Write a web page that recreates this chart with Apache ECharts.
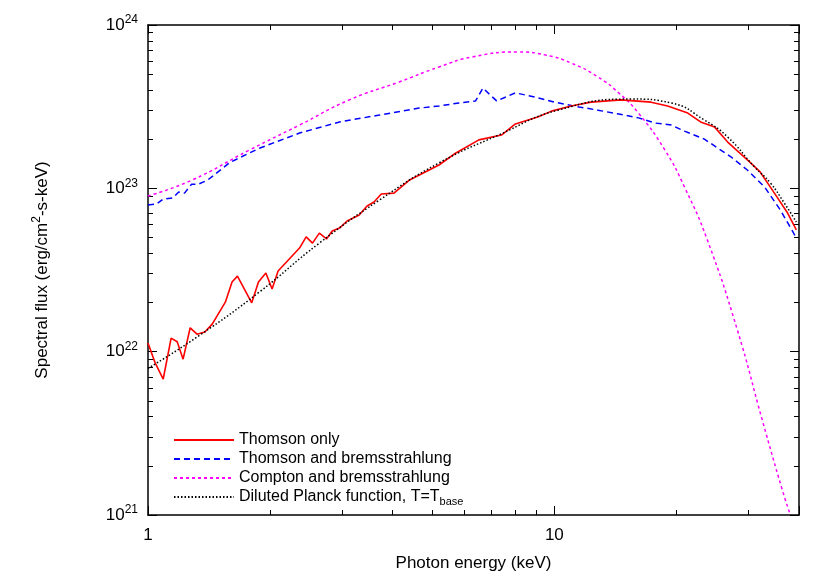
<!DOCTYPE html>
<html>
<head>
<meta charset="utf-8">
<script src="https://cdn.jsdelivr.net/npm/echarts@6/dist/echarts.min.js"></script>
<style>html,body{margin:0;padding:0;background:#fff}#chart{width:830px;height:580px}</style>
</head>
<body>
<div id="chart"></div>
<script>
// energies in keV, flux in units of 1e22 erg/cm2-s-keV
var thomsonE = [1.00,1.04,1.09,1.14,1.18,1.22,1.27,1.32,1.38,1.44,1.55,1.61,1.66,1.80,1.87,1.95,2.02,2.09,2.36,2.45,2.54,2.64,2.75,2.84,2.96,3.09,3.31,3.46,3.60,3.75,4.03,4.39,5.20,5.71,6.52,7.41,8.02,9.14,9.84,11.0,12.3,14.6,17.3,19.0,21.3,22.9,24.8,26.7,29.9,32.1,34.8,37.5,39.4];
var thomsonF = [1.13,0.86,0.68,1.21,1.15,0.90,1.40,1.28,1.32,1.48,2.01,2.67,2.90,1.99,2.67,3.03,2.42,3.12,4.31,5.04,4.62,5.32,4.90,5.48,5.71,6.31,6.87,7.80,8.24,9.23,9.35,11.2,13.9,16.4,19.8,21.2,24.8,27.4,29.7,31.9,33.7,34.8,33.7,31.9,28.9,25.5,23.7,19.2,14.9,12.6,9.35,7.06,5.56];
var bremE = [1.00,1.05,1.09,1.15,1.19,1.23,1.28,1.33,1.40,1.59,1.88,2.36,2.96,3.71,4.65,5.20,5.82,6.40,6.67,7.21,8.02,8.97,10.0,11.5,12.8,14.4,16.1,17.7,19.4,20.9,23.4,27.2,29.9,32.9,36.0,39.4];
var bremF = [7.91,8.02,8.60,8.73,9.49,9.35,10.6,10.6,11.2,14.4,17.6,21.8,25.5,28.1,31.0,31.9,33.3,34.3,41.1,34.3,38.4,36.2,33.7,31.5,30.1,28.5,27.0,25.1,24.4,22.4,20.0,15.6,12.9,10.2,7.36,4.97];
var comptonE = [1.00,1.28,1.78,2.36,3.13,4.15,5.20,6.27,8.17,9.51,11.0,12.8,14.4,16.1,18.7,20.9,23.8,28.2,32.5,36.4,38.1];
var comptonF = [8.98,11.2,17.2,24.4,34.8,44.8,55.3,63.7,68.4,65.5,58.5,48.1,38.4,28.9,17.2,10.2,4.82,1.36,0.38,0.142,0.100];
var planckE = [1.00,1.34,1.88,2.64,3.71,5.20,7.29,10.2,15.5,19.4,23.4,26.7,31.1,34.0,36.8,39.4];
var planckF = [0.79,1.26,2.32,4.62,8.47,14.3,21.2,30.1,35.2,33.3,26.2,20.6,13.5,10.8,8.13,6.22];
var yTicks = ['21','22','23','24'];

function pts(e, f) {
    var out = [];
    for (var i = 0; i < e.length; i++) out.push([e[i], f[i] * 1e22]);
    return out;
}

var chart = echarts.init(document.getElementById('chart'));
var font = 'Liberation Sans, Arial, sans-serif';
var supStyle = {fontSize: 12, verticalAlign: 'bottom', padding: [0, 0, 10, 0], fontFamily: font, color: '#000'};

var xBase = {
    type: 'log', logBase: 10, min: 1, max: 40,
    axisLine: {show: true, lineStyle: {color: '#000', width: 1.5}},
    axisTick: {inside: true, length: 9, lineStyle: {color: '#000'}},
    minorTick: {show: true, splitNumber: 9, length: 5, lineStyle: {color: '#000'}},
    splitLine: {show: false}
};
var yBase = {
    type: 'log', logBase: 10, min: 1e21, max: 1e24,
    axisLine: {show: true, lineStyle: {color: '#000', width: 1.5}},
    axisTick: {inside: true, length: 9, lineStyle: {color: '#000'}},
    minorTick: {show: true, splitNumber: 9, length: 5, lineStyle: {color: '#000'}},
    splitLine: {show: false}
};

var option = {
    animation: false,
    grid: {left: 148, top: 25, right: 31, bottom: 65},
    legend: {
        orient: 'vertical', left: 168, top: 427, itemGap: 3,
        itemWidth: 60, itemHeight: 14,
        itemStyle: {opacity: 0},
        textStyle: {fontSize: 16, fontFamily: font, color: '#000',
            rich: {sub: {fontSize: 11, verticalAlign: 'top', padding: [10, 0, 0, 0], fontFamily: font, color: '#000'}}},
        formatter: function (n) {
            return n === 'Diluted Planck function, T=Tbase' ? 'Diluted Planck function, T=T{sub|base}' : n;
        },
        data: ['Thomson only', 'Thomson and bremsstrahlung', 'Compton and bremsstrahlung', 'Diluted Planck function, T=Tbase']
    },
    xAxis: [
        Object.assign({}, xBase, {
            name: 'Photon energy (keV)', nameLocation: 'middle', nameGap: 40,
            nameTextStyle: {fontSize: 17, fontFamily: font, color: '#000'},
            axisLabel: {fontSize: 17, fontFamily: font, color: '#000', margin: 12,
                formatter: function (v) { var l = Math.log10(v); return Math.abs(l - Math.round(l)) < 1e-6 ? String(v) : ''; }}
        }),
        Object.assign({}, xBase, {position: 'top', axisLabel: {show: false}})
    ],
    yAxis: [
        Object.assign({}, yBase, {
            name: 'Spectral flux (erg/cm{sup|2}-s-keV)', nameLocation: 'middle', nameGap: 95, nameRotate: 90,
            nameTextStyle: {fontSize: 17, fontFamily: font, color: '#000', rich: {sup: supStyle}},
            axisLabel: {fontSize: 17, fontFamily: font, color: '#000', margin: 10,
                rich: {sup: supStyle},
                formatter: function (v) {
                    var l = Math.round(Math.log10(v));
                    return yTicks.indexOf(String(l)) >= 0 ? '10{sup|' + l + '}' : '';
                }}
        }),
        Object.assign({}, yBase, {position: 'right', axisLabel: {show: false}})
    ],
    series: [
        {name: 'Thomson only', type: 'line', symbol: 'none', data: pts(thomsonE, thomsonF),
            lineStyle: {color: '#ff0000', width: 1.6}, itemStyle: {color: '#ff0000'}, z: 4},
        {name: 'Thomson and bremsstrahlung', type: 'line', symbol: 'none', data: pts(bremE, bremF),
            lineStyle: {color: '#0000ff', width: 1.5, type: [6, 4]}, itemStyle: {color: '#0000ff'}, z: 3},
        {name: 'Compton and bremsstrahlung', type: 'line', symbol: 'none', smooth: true, data: pts(comptonE, comptonF),
            lineStyle: {color: '#ff00ff', width: 1.5, type: [3, 3]}, itemStyle: {color: '#ff00ff'}, z: 2},
        {name: 'Diluted Planck function, T=Tbase', type: 'line', symbol: 'none', smooth: true, data: pts(planckE, planckF),
            lineStyle: {color: '#000', width: 1.5, type: [1.5, 2]}, itemStyle: {color: '#000'}, z: 5}
    ]
};
chart.setOption(option);
</script>
</body>
</html>
